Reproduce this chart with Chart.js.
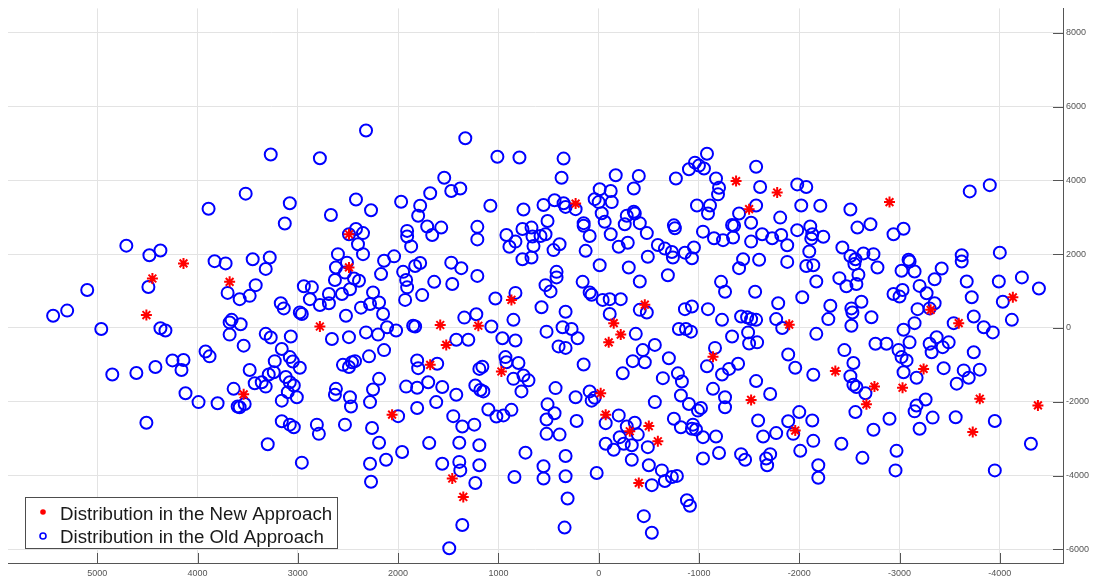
<!DOCTYPE html>
<html>
<head>
<meta charset="utf-8">
<script src="https://cdn.jsdelivr.net/npm/chart.js@4.4.0/dist/chart.umd.min.js"></script>
<style>
  html, body { margin: 0; padding: 0; background: #fff; }
  #wrap { width: 1094px; height: 580px; }
</style>
</head>
<body>
<div id="wrap"><canvas id="chart" width="1094" height="580"></canvas></div>
<script>
// values, [x, y]
const newApproach = [
  [4140,1750],[4450,1340],[3680,1250],[4510,350],[3540,-1800],[2490,2540],[2490,1640],[2780,40],
  [1580,80],[1200,60],[870,760],[1520,-460],[1680,-1000],[970,-1180],[2060,-2350],[1460,-4080],
  [1350,-4580],[230,3370],[-1370,3980],[-1500,3220],[-1780,3670],[-460,630],[-150,130],[-220,-180],
  [-100,-390],[-1140,-780],[-20,-1770],[-70,-2350],[-310,-2800],[-500,-2660],[-590,-3070],[-400,-4200],
  [-1520,-1950],[-2900,3410],[-1900,90],[-3310,490],[-3590,130],[-4130,830],[-2360,-1170],[-2750,-1590],
  [-2670,-2070],[-3030,-1620],[-3240,-1110],[-3800,-1920],[-3730,-2820],[-4380,-2100],[-1960,-2780]
];

const oldApproach = [
  [3270,4700],[3520,3640],[3890,3230],[3130,2830],[4710,2230],[4480,1970],[4370,2100],[3830,1810],
  [3720,1750],[3450,1860],[3280,1910],[3320,1600],[4490,1110],[5100,1030],[3700,950],[3580,780],
  [3480,870],[3420,1160],[5440,330],[5300,470],[4960,-30],[4370,-10],[4320,-70],[3680,150],
  [3660,220],[3570,100],[3680,-180],[3170,670],[3140,530],[3320,-160],[3270,-260],
  [3540,-480],[3160,-570],[3920,-640],[3880,-770],[4250,-880],[4140,-870],[4160,-1140],[3230,-900],
  [4850,-1260],[4610,-1220],[4420,-1060],[3480,-1140],[3290,-1260],[3240,-1200],[3430,-1500],[3360,-1470],
  [3320,-1590],[3640,-1650],[4120,-1770],[3990,-2010],[3800,-2040],[3600,-2130],[3580,-2150],[3530,-2060],
  [3160,-1970],[4510,-2570],[3160,-2530],[3300,-3150],
  [2320,5350],[2780,4600],[1330,5140],[1010,4640],[790,4620],[1540,4070],[1470,3710],[1380,3780],
  [1680,3650],[3080,3380],[2420,3480],[2270,3190],[2670,3060],[1970,3420],[1780,3310],[1800,3040],
  [1710,2750],[1660,2520],[1570,2720],[1080,3310],[750,3210],[2420,2680],[2350,2570],[2490,2540],
  [2400,2270],[2350,2000],[1910,2630],[1910,2480],[1870,2210],[1210,2740],[1210,2400],[920,2520],
  [830,2340],[890,2200],[760,2680],[670,2720],[660,2480],[650,2220],[670,1910],[760,1860],
  [2600,2000],[2620,1640],[2510,1770],[2530,1500],[2630,1300],[2440,1340],[2390,1280],[2480,1050],
  [2560,920],[2140,1820],[2040,1940],[2170,1460],[1950,1520],[1920,1300],[1910,1100],[1830,1680],
  [1780,1760],[1930,760],[1760,890],[1470,1770],[1370,1620],[1210,1410],[1640,1250],[1460,1190],
  [2940,1130],[2860,1100],[2880,780],[2780,620],[2690,670],[2690,920],[2980,420],[2960,380],
  [2520,330],[2370,550],[2280,650],[2250,960],[2190,690],[2150,380],[1030,800],[830,950],
  [1340,280],[1220,370],[1070,40],[850,220],[3070,-230],[2660,-300],[2490,-250],[2320,-120],
  [2200,-180],[2110,20],[2020,-70],[1850,60],[1830,40],[1420,-320],[1300,-320],[960,-280],[830,-340],
  [3080,-790],[3050,-910],[2980,-1080],[3120,-1330],[3080,-1470],[3040,-1560],[3100,-1740],[3010,-1880],
  [3080,-2620],[3040,-2690],[2810,-2620],[2790,-2870],[2960,-3650],[2620,-1650],[2630,-1810],[2550,-1000],
  [2490,-1060],[2460,-930],[2430,-900],[2290,-770],[2140,-600],[2480,-1880],[2470,-2130],[2280,-2010],
  [2250,-1670],[2190,-1380],[2530,-2620],[2260,-2710],[2190,-3110],[1960,-3360],[2120,-3570],[2280,-3680],
  [2270,-4170],[1810,-880],[1800,-1090],[1610,-970],[1920,-1590],[1810,-1620],[1700,-1470],[1560,-1600],
  [1620,-2010],[1810,-2170],[1420,-1810],[1450,-2390],[1360,-2670],[1240,-2620],[1390,-3110],[1190,-3180],
  [2000,-2390],[1690,-3120],[1230,-1560],[1180,-1680],[1150,-1720],[1190,-1110],[1160,-1050],[1100,-2210],
  [1020,-2400],[950,-2370],[870,-2220],[930,-790],[920,-930],[800,-950],[850,-1380],[750,-1290],
  [700,-1420],[770,-1720],[730,-3380],[1560,-3680],[1390,-3630],[1380,-3860],[1190,-3720],[1230,-4200],
  [840,-4040],[1360,-5340],[1490,-5970],
  [350,4590],[370,4070],[-170,4140],[-400,4120],[-350,3780],[-10,3760],[-120,3710],[40,3490],
  [0,3410],[-130,3410],[550,3330],[440,3460],[350,3380],[330,3280],[230,3220],[-30,3110],
  [-60,2880],[-280,3040],[-260,2810],[-350,3150],[-360,3100],[-410,2840],[-120,2540],[-200,2200],
  [-290,2310],[-480,2570],[150,2840],[150,2770],[90,2490],[130,2090],[580,2490],[530,2540],
  [510,2900],[450,2110],[390,2270],[-10,1700],[-300,1640],[-410,1260],[-690,1430],[-490,1930],
  [-590,2250],[-660,2150],[-730,2060],[-740,1910],[-860,2040],[-930,1890],[-950,2180],[-750,2780],
  [-760,2700],[-770,4050],[-900,4300],[-960,4480],[-1000,4400],[-1080,4720],[-1050,4320],[-1170,4050],
  [-1200,3800],[-1190,3620],[-980,3320],[-1110,3320],[-1090,3100],[-1040,2610],[-1150,2430],[-1240,2380],
  [-1330,2790],[-1350,2770],[-1340,2450],[-1400,3100],[-1520,2850],[-1570,3320],[-1610,3820],[-1570,4370],
  [-1520,2340],[-1630,2540],[-1730,2430],[-1820,2520],[-1810,2990],[-1440,1860],[-1400,1620],[-1600,1850],
  [-1220,1250],[-1260,980],[-1560,980],[160,1250],[90,960],[70,900],[-40,760],[-110,780],
  [-220,780],[-110,380],[420,1520],[420,1370],[530,1160],[480,990],[570,560],[330,440],
  [-410,490],[-480,420],[-860,510],[-930,580],[-1090,510],[-1230,220],[-1420,310],[-1480,290],
  [-1520,240],[-1570,220],[-1790,670],[-1770,240],[-1830,0],[520,-100],[360,20],[270,-30],
  [210,-280],[-370,-160],[-800,-30],[-870,-30],[-920,-100],[-1330,-230],[-1490,-120],
  [400,-500],[330,-540],[150,-990],[430,-1630],[510,-2070],[440,-2310],[520,-2480],[230,-1880],
  [220,-2520],[520,-2870],[390,-2890],[330,-3470],[550,-3750],[550,-4080],[330,-4020],[310,-4620],
  [340,-5410],[20,-3930],[90,-1720],[70,-1970],[40,-1890],[-240,-1230],[-340,-900],[-460,-930],
  [-440,-600],[-560,-460],[-700,-820],[-640,-1360],[-790,-1230],[-830,-1450],[-820,-1830],[-900,-2060],
  [-1020,-2170],[-990,-2240],[-560,-2010],[-200,-2370],[-70,-2580],[-280,-2670],[-360,-2570],[-390,-2890],
  [-210,-2960],[-250,-3140],[-70,-3140],[-150,-3300],[-330,-3180],[-490,-3230],[-330,-3570],[-500,-3720],
  [-630,-3860],[-660,-4150],[-730,-4040],[-780,-4010],[-530,-4260],[-750,-2460],[-820,-2690],[-930,-2730],
  [-940,-2620],[-970,-2750],[-1040,-2960],[-1170,-2940],[-1200,-3390],[-1040,-3540],[-880,-4670],[-910,-4820],
  [-450,-5100],[-530,-5550],[-1160,-540],[-1080,-1040],[-1230,-1260],[-1300,-1110],[-1390,-970],[-1140,-1650],
  [-1260,-1880],[-1260,-2150],[-1500,-420],[-1580,-390],[-1570,-1440],[-1710,-1790],[-1590,-2510],[-1640,-2940],
  [-1770,-2850],[-1420,-3420],[-1460,-3570],[-1670,-3540],[-1680,-3720],[-1710,-3420],
  [-1880,2240],[-1880,1790],[-1980,3890],[-2070,3820],[-2020,3320],[-2210,3310],[-2510,3210],[-1980,2650],
  [-2110,2750],[-2130,2540],[-2120,2420],[-2240,2470],[-2100,2070],[-2070,1680],[-2140,1700],[-2580,2720],
  [-2710,2810],[-2940,2540],[-3040,2690],[-2430,2180],[-2510,1950],[-2560,1860],[-2550,1730],[-2640,2020],
  [-2740,2000],[-2780,1640],[-2590,1440],[-2570,1190],[-2470,1130],[-2400,1350],[-2170,1260],[-2030,830],
  [-2310,600],[-2290,240],[-2520,530],[-2530,420],[-2520,60],[-2620,710],[-2720,290],[-2940,920],
  [-3000,850],[-3030,1030],[-3090,1850],[-3100,1800],[-3020,1550],[-3150,1530],[-3350,1320],[-3420,1610],
  [-3200,1140],[-3270,940],[-3350,670],[-3300,530],[-3180,510],[-3150,130],[-3040,-50],[-3620,1970],
  [-3620,1800],[-3670,1260],[-3720,830],[-3740,310],[-3840,20],[-3930,-120],[-3540,130],[-3700,3700],
  [-3900,3870],[-4000,2040],[-3990,1260],[-4030,710],[-4120,220],[-4220,1370],[-4390,1070],[-2170,-160],
  [-3370,-250],
  [-1890,-720],[-1960,-1080],[-2140,-1270],[-2450,-600],[-2540,-950],[-2510,-1310],[-2540,-1540],[-2570,-1600],
  [-2660,-1770],[-2760,-430],[-2870,-430],[-2990,-600],[-3020,-790],[-3070,-880],[-3100,-390],[-3040,-1200],
  [-3170,-1350],[-3300,-430],[-3320,-660],[-3430,-520],[-3490,-390],[-3740,-660],[-3440,-1090],[-3640,-1150],
  [-3690,-1350],[-3570,-1510],[-3800,-1130],[-2000,-2280],[-1890,-2530],[-2130,-2510],[-1940,-2870],[-2140,-3060],
  [-2010,-3330],[-2560,-2280],[-2740,-2760],[-2900,-2460],[-2420,-3140],[-2630,-3520],[-2970,-3330],[-2960,-3860],
  [-3170,-2100],[-3150,-2260],[-3260,-1940],[-3330,-2430],[-3200,-2730],[-3560,-2420],[-3950,-2520],[-4310,-3140],
  [-3950,-3860],[-2190,-3720],[-2190,-4060]
];

const seriesLabels = ['Distribution in the New Approach', 'Distribution in the Old Approach'];
const xTickValues = [-4000, -3000, -2000, -1000, 0, 1000, 2000, 3000, 4000, 5000];
const yTickValues = [-6000, -4000, -2000, 0, 2000, 4000, 6000, 8000];
const xRange = [-4630, 5890];
const yRange = [-6370, 8660];

const axisColor = '#555555';
const tickFont = { size: 9, family: '"Liberation Sans", Arial, sans-serif' };
const toPoints = arr => arr.map(p => ({ x: p[0], y: p[1] }));

// MATLAB-style ticks pointing into the plot
const innerTicks = {
  id: 'innerTicks',
  afterDraw(chart) {
    const { ctx, chartArea, scales } = chart;
    ctx.save();
    ctx.strokeStyle = axisColor;
    ctx.lineWidth = 1;
    ctx.beginPath();
    scales.x.ticks.forEach(t => {
      const px = Math.round(scales.x.getPixelForValue(t.value)) + 0.5;
      ctx.moveTo(px, chartArea.bottom);
      ctx.lineTo(px, chartArea.bottom - 10);
    });
    scales.y.ticks.forEach(t => {
      const py = Math.round(scales.y.getPixelForValue(t.value)) + 0.5;
      ctx.moveTo(chartArea.right, py);
      ctx.lineTo(chartArea.right - 10, py);
    });
    ctx.stroke();
    ctx.restore();
  }
};

// boxed legend in the lower left corner
const boxLegend = {
  id: 'boxLegend',
  afterDraw(chart) {
    const ctx = chart.ctx;
    const ds = chart.data.datasets;
    ctx.save();
    ctx.fillStyle = '#ffffff';
    ctx.fillRect(25.5, 497.5, 312, 51);
    ctx.strokeStyle = '#4d4d4d';
    ctx.lineWidth = 1;
    ctx.strokeRect(25.5, 497.5, 312, 51);
    ctx.font = '18.7px "Liberation Sans", Arial, sans-serif';
    ctx.textBaseline = 'alphabetic';
    // new approach: filled red dot
    ctx.beginPath();
    ctx.fillStyle = ds[0].borderColor;
    ctx.arc(43, 512, 2.8, 0, Math.PI * 2);
    ctx.fill();
    // old approach: small blue ring
    ctx.beginPath();
    ctx.strokeStyle = ds[1].borderColor;
    ctx.lineWidth = 1.6;
    ctx.arc(43, 536, 3, 0, Math.PI * 2);
    ctx.stroke();
    ctx.fillStyle = '#1a1a1a';
    ctx.fillText(ds[0].label, 60, 519.5);
    ctx.fillText(ds[1].label, 60, 542.5);
    ctx.restore();
  }
};

new Chart(document.getElementById('chart'), {
  type: 'scatter',
  data: {
    datasets: [
      {
        label: seriesLabels[0],
        data: toPoints(newApproach),
        pointStyle: 'star',
        radius: 5.5,
        borderWidth: 2,
        borderColor: '#ff0000',
        backgroundColor: '#ff0000'
      },
      {
        label: seriesLabels[1],
        data: toPoints(oldApproach),
        pointStyle: 'circle',
        radius: 6,
        borderWidth: 2,
        borderColor: '#0000ff',
        backgroundColor: 'rgba(0,0,0,0)'
      }
    ]
  },
  options: {
    responsive: false,
    animation: false,
    events: [],
    devicePixelRatio: 1,
    layout: { padding: { left: 8, top: 7, right: 0, bottom: 0 } },
    plugins: { legend: { display: false }, tooltip: { enabled: false } },
    scales: {
      x: {
        type: 'linear',
        position: 'bottom',
        reverse: true,
        min: xRange[0],
        max: xRange[1],
        afterBuildTicks: s => { s.ticks = xTickValues.map(v => ({ value: v })); },
        afterFit: s => { s.height = 17; },
        grid: { color: '#e3e3e3', lineWidth: 1, drawTicks: false },
        border: { display: true, color: axisColor, width: 1 },
        ticks: { color: '#555', padding: 5, font: tickFont, maxRotation: 0, callback: v => String(v) }
      },
      y: {
        type: 'linear',
        position: 'right',
        min: yRange[0],
        max: yRange[1],
        afterBuildTicks: s => { s.ticks = yTickValues.map(v => ({ value: v })); },
        afterFit: s => { s.width = 31; },
        grid: { color: '#e3e3e3', lineWidth: 1, drawTicks: false },
        border: { display: true, color: axisColor, width: 1 },
        ticks: { color: '#555', padding: 3, font: tickFont, callback: v => String(v) }
      }
    }
  },
  plugins: [innerTicks, boxLegend]
});
</script>
</body>
</html>
